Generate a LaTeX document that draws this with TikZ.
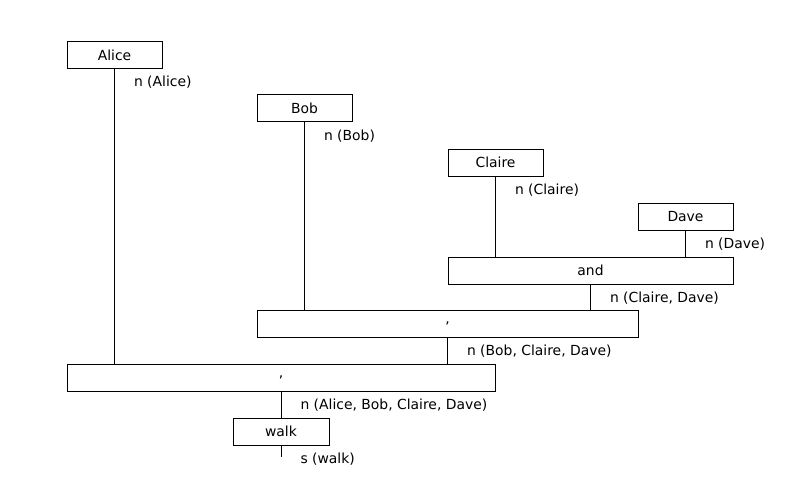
\documentclass[tikz,border=0pt]{standalone}
\usepackage{fontspec}
\setmainfont{DejaVu Sans}
\begin{document}
\begin{tikzpicture}[x=1pt,y=-1pt,line width=1pt,
  tok/.style={draw,rectangle,inner sep=0pt,minimum height=27pt,font=\fontsize{13.9}{16}\selectfont},
  lab/.style={anchor=west,inner sep=0pt,font=\fontsize{13.9}{16}\selectfont},
  conn/.style={draw,line width=1pt}]
\useasboundingbox (0,0) rectangle (800,500);
\node[tok,minimum width=95pt] (alice) at (114.5,55.5) {Alice};
\node[tok,minimum width=95pt] (bob) at (304.5,108.5) {Bob};
\node[tok,minimum width=95pt] (claire) at (495.5,162.5) {Claire};
\node[tok,minimum width=95pt] (dave) at (685.5,216.5) {Dave};
\node[tok,minimum width=285pt] (and) at (590.5,270.5) {and};
\node[tok,minimum width=381pt] (c1) at (447.5,323.5) {,};
\node[tok,minimum width=428pt] (c2) at (281,377.5) {,};
\node[tok,minimum width=96pt] (walk) at (281,431.5) {walk};
\coordinate (wend) at (281,457);
\draw[conn] (alice.south) -- (alice.south |- c2.north);
\draw[conn] (bob.south) -- (bob.south |- c1.north);
\draw[conn] (claire.south) -- (claire.south |- and.north);
\draw[conn] (dave.south) -- (dave.south |- and.north);
\draw[conn] (and.south) -- (and.south |- c1.north);
\draw[conn] (c1.south) -- (c1.south |- c2.north);
\draw[conn] (c2.south) -- (walk.north);
\draw[conn] (walk.south) -- (wend);
\node[lab] (lalice) at ([xshift=19pt,yshift=-13pt]alice.south) {n (Alice)};
\node[lab] (lbob) at ([xshift=19pt,yshift=-13.5pt]bob.south) {n (Bob)};
\node[lab] (lclaire) at ([xshift=19pt,yshift=-13.5pt]claire.south) {n (Claire)};
\node[lab] (ldave) at ([xshift=19pt,yshift=-13.5pt]dave.south) {n (Dave)};
\node[lab] (land) at ([xshift=19pt,yshift=-13.5pt]and.south) {n (Claire, Dave)};
\node[lab] (lc1) at ([xshift=19pt,yshift=-13.5pt]c1.south) {n (Bob, Claire, Dave)};
\node[lab] (lc2) at ([xshift=19pt,yshift=-13.5pt]c2.south) {n (Alice, Bob, Claire, Dave)};
\node[lab] (lwalk) at ([xshift=19pt,yshift=-13.5pt]walk.south) {s (walk)};
\end{tikzpicture}
\end{document}
